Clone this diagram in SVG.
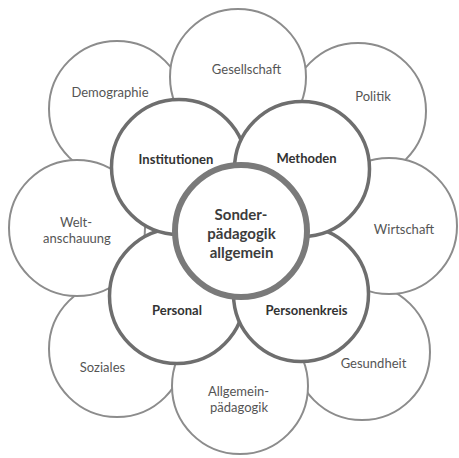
<svg xmlns="http://www.w3.org/2000/svg" width="459" height="458" viewBox="0 0 459 458">
  <style>
    .outer { fill: #ffffff; stroke: #8c8c8c; stroke-width: 2; }
    .inner { fill: #ffffff; stroke: #6e6e6e; stroke-width: 3.5; }
    .core  { fill: #ffffff; stroke: #7a7a7a; stroke-width: 6; }
    text { font-family: Lato, "Open Sans", "Liberation Sans", sans-serif; text-anchor: middle; }
    .t-outer { font-size: 13px; fill: #555555; }
    .t-inner { font-size: 13px; font-weight: bold; fill: #333333; }
    .t-core  { font-size: 15px; font-weight: bold; fill: #3c3c3c; }
  </style>
  <rect width="459" height="458" fill="#ffffff"/>

  <!-- outer ring: diagonal circles first, axis circles on top -->
  <g id="demographie">
    <circle class="outer" cx="117" cy="109" r="68"/>
    <text class="t-outer" x="110" y="96.5">Demographie</text>
  </g>
  <g id="politik">
    <circle class="outer" cx="358" cy="111" r="68"/>
    <text class="t-outer" x="373" y="101">Politik</text>
  </g>
  <g id="gesundheit">
    <circle class="outer" cx="362" cy="352" r="68"/>
    <text class="t-outer" x="373.5" y="368">Gesundheit</text>
  </g>
  <g id="soziales">
    <circle class="outer" cx="117" cy="349" r="68"/>
    <text class="t-outer" x="102.5" y="372">Soziales</text>
  </g>
  <g id="gesellschaft">
    <circle class="outer" cx="238" cy="77" r="68"/>
    <text class="t-outer" x="246.5" y="74">Gesellschaft</text>
  </g>
  <g id="wirtschaft">
    <circle class="outer" cx="389" cy="226" r="68"/>
    <text class="t-outer" x="404" y="234">Wirtschaft</text>
  </g>
  <g id="allgemeinpaedagogik">
    <circle class="outer" cx="240" cy="386" r="68"/>
    <text class="t-outer" x="238.5" y="396">Allgemein-</text>
    <text class="t-outer" x="239" y="412">pädagogik</text>
  </g>
  <g id="weltanschauung">
    <circle class="outer" cx="77" cy="228" r="68"/>
    <text class="t-outer" x="76" y="227">Welt-</text>
    <text class="t-outer" x="77" y="243">anschauung</text>
  </g>

  <!-- inner ring -->
  <g id="personal">
    <circle class="inner" cx="177" cy="296" r="67.5"/>
    <text class="t-inner" x="177" y="315">Personal</text>
  </g>
  <g id="personenkreis">
    <circle class="inner" cx="301" cy="294" r="67.5"/>
    <text class="t-inner" x="306.5" y="315">Personenkreis</text>
  </g>
  <g id="institutionen">
    <circle class="inner" cx="179" cy="167" r="67.5"/>
    <text class="t-inner" x="176" y="164">Institutionen</text>
  </g>
  <g id="methoden">
    <circle class="inner" cx="302" cy="169" r="67.5"/>
    <text class="t-inner" x="306.5" y="163">Methoden</text>
  </g>

  <!-- centre -->
  <g id="sonderpaedagogik">
    <circle class="core" cx="241" cy="231" r="66"/>
    <text class="t-core" x="241" y="220">Sonder-</text>
    <text class="t-core" x="241.5" y="239">pädagogik</text>
    <text class="t-core" x="241.5" y="258">allgemein</text>
  </g>

  <g id="connectors"/>
</svg>
